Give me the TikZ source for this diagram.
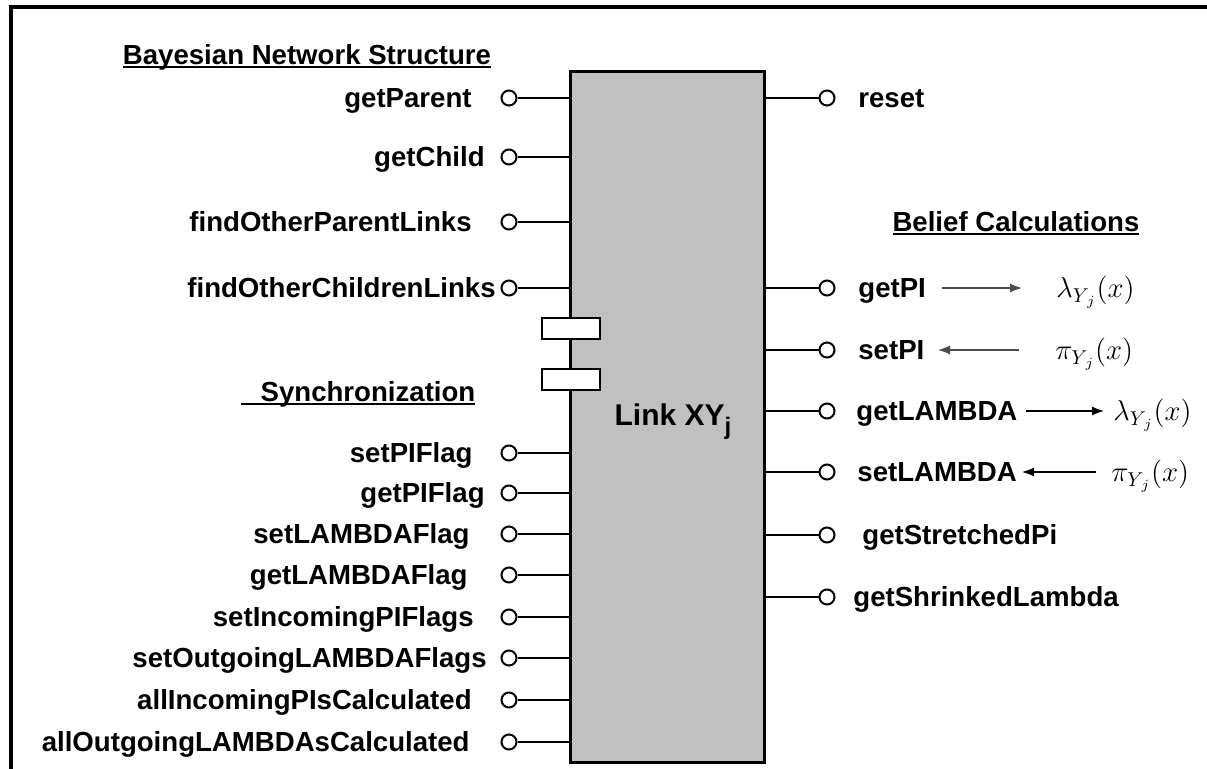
\documentclass[tikz,border=0pt]{standalone}
\usepackage{amsmath,amsfonts,amssymb}
\usepackage{fontspec}
\setmainfont{Liberation Sans}
\usepackage{tikz}
\usetikzlibrary{arrows.meta}
\definecolor{boxgray}{RGB}{192,192,192}
\newcommand{\ulhead}[1]{\setbox0\hbox{#1}\rlap{\rule[-1.6pt]{\wd0}{1pt}}\box0}

\begin{document}
\begin{tikzpicture}[x=0.5pt,y=-0.5pt,
        lbl/.style={font=\fontsize{13.8}{16}\selectfont\bfseries,inner sep=0pt,text height=10pt,text depth=0pt},
        mth/.style={font=\fontsize{14.5}{16}\selectfont,inner sep=0pt,text height=10pt,text depth=0pt},
        port/.style={draw,circle,line width=1pt,fill=white,inner sep=0pt,minimum size=7.5pt},
        wire/.style={line width=1pt},
        lock/.style={draw,fill=white,line width=1pt,inner sep=0pt,minimum width=29pt,minimum height=10.5pt},
        flow/.style={-{Latex[length=6pt,width=4.5pt]},line width=0.6pt}]
        \useasboundingbox (0,0) rectangle (1207,769);
        \draw[line width=2.2pt] (11,769) -- (11,7) -- (1207,7);

        % the link object
        \node (link) at (667.5,417.5) [draw,fill=boxgray,line width=1.5pt,minimum width=97pt,minimum height=345.5pt] {};
        \node (Tlink) at (673,416) [lbl,font=\fontsize{15}{16}\selectfont\bfseries] {Link XY\raisebox{-4.5pt}{\fontsize{12}{12}\selectfont j}};
        \node (Lock1) at (570.5,328.5) [lock] {};
        \node (Lock2) at (570.5,380)   [lock] {};

        % headings
        \node (Hbayes) at (307,55)  [lbl] {\ulhead{Bayesian Network Structure}};
        \node (Hsync)  at (358,392) [lbl] {\ulhead{\hspace*{10pt}Synchronization}};
        \node (Hbelief) at (1016,222) [lbl] {\ulhead{Belief Calculations}};

        % structure ports
        \node (Lparent) at (472,98)  [lbl,anchor=east] {getParent};
        \node (Lchild)  at (485,157) [lbl,anchor=east] {getChild};
        \node (Lopl)    at (472,222) [lbl,anchor=east] {findOtherParentLinks};
        \node (Locl)    at (496,288) [lbl,anchor=east] {findOtherChildrenLinks};
        \node (Pparent) at (509,98)  [port] {};
        \node (Pchild)  at (509,157) [port] {};
        \node (Popl)    at (509,222) [port] {};
        \node (Pocl)    at (509,288) [port] {};

        % synchronization ports
        \node (Lsetpif) at (473,453) [lbl,anchor=east] {setPIFlag};
        \node (Lgetpif) at (485,493) [lbl,anchor=east] {getPIFlag};
        \node (Lsetlf)  at (470,534) [lbl,anchor=east] {setLAMBDAFlag};
        \node (Lgetlf)  at (468,575) [lbl,anchor=east] {getLAMBDAFlag};
        \node (Lincpi)  at (474,617) [lbl,anchor=east] {setIncomingPIFlags};
        \node (Loutl)   at (487,658) [lbl,anchor=east] {setOutgoingLAMBDAFlags};
        \node (Lallpi)  at (472,700) [lbl,anchor=east] {allIncomingPIsCalculated};
        \node (Lalll)   at (470,742) [lbl,anchor=east] {allOutgoingLAMBDAsCalculated};
        \node (Psetpif) at (509,453) [port] {};
        \node (Pgetpif) at (509,493) [port] {};
        \node (Psetlf)  at (509,534) [port] {};
        \node (Pgetlf)  at (509,575) [port] {};
        \node (Pincpi)  at (509,617) [port] {};
        \node (Poutl)   at (509,658) [port] {};
        \node (Pallpi)  at (509,700) [port] {};
        \node (Palll)   at (509,742) [port] {};

        \draw[wire] (Pparent) -- (Pparent -| link.west);
        \draw[wire] (Pchild) -- (Pchild -| link.west);
        \draw[wire] (Popl) -- (Popl -| link.west);
        \draw[wire] (Pocl) -- (Pocl -| link.west);
        \draw[wire] (Psetpif) -- (Psetpif -| link.west);
        \draw[wire] (Pgetpif) -- (Pgetpif -| link.west);
        \draw[wire] (Psetlf) -- (Psetlf -| link.west);
        \draw[wire] (Pgetlf) -- (Pgetlf -| link.west);
        \draw[wire] (Pincpi) -- (Pincpi -| link.west);
        \draw[wire] (Poutl) -- (Poutl -| link.west);
        \draw[wire] (Pallpi) -- (Pallpi -| link.west);
        \draw[wire] (Palll) -- (Palll -| link.west);

        % belief ports
        \node (Rreset)   at (858,98)  [lbl,anchor=west] {reset};
        \node (RgetPI)   at (858,288) [lbl,anchor=west] {getPI};
        \node (RsetPI)   at (858,350) [lbl,anchor=west] {setPI};
        \node (RgetL)    at (856,411) [lbl,anchor=west] {getLAMBDA};
        \node (RsetL)    at (857,472) [lbl,anchor=west] {setLAMBDA};
        \node (Rstretch) at (862,535) [lbl,anchor=west] {getStretchedPi};
        \node (Rshrink)  at (853,597) [lbl,anchor=west] {getShrinkedLambda};
        \node (Qreset)   at (827,98)  [port] {};
        \node (QgetPI)   at (827,288) [port] {};
        \node (QsetPI)   at (827,350) [port] {};
        \node (QgetL)    at (827,411) [port] {};
        \node (QsetL)    at (827,472) [port] {};
        \node (Qstretch) at (827,535) [port] {};
        \node (Qshrink)  at (827,597) [port] {};

        \draw[wire] (Qreset -| link.east) -- (Qreset);
        \draw[wire] (QgetPI -| link.east) -- (QgetPI);
        \draw[wire] (QsetPI -| link.east) -- (QsetPI);
        \draw[wire] (QgetL -| link.east) -- (QgetL);
        \draw[wire] (QsetL -| link.east) -- (QsetL);
        \draw[wire] (Qstretch -| link.east) -- (Qstretch);
        \draw[wire] (Qshrink -| link.east) -- (Qshrink);

        % messages
        \node (Mlam1) at (1056,288) [mth,anchor=west] {$\lambda_{Y_{\,j}}(x)$};
        \node (Mpi1)  at (1055,350) [mth,anchor=west] {$\pi_{Y_{\,j}}(x)$};
        \node (Mlam2) at (1113,411) [mth,anchor=west] {$\lambda_{Y_{\,j}}(x)$};
        \node (Mpi2)  at (1111,472) [mth,anchor=west] {$\pi_{Y_{\,j}}(x)$};
        \coordinate (A1s) at (942,288);  \coordinate (A1e) at (1022,288);
        \coordinate (A2s) at (1019,350); \coordinate (A2e) at (938,350);
        \coordinate (A3s) at (1026,411); \coordinate (A3e) at (1104,411);
        \coordinate (A4s) at (1096,472); \coordinate (A4e) at (1022,472);
        \draw[flow,black!70] (A1s) -- (A1e);
        \draw[flow,black!70] (A2s) -- (A2e);
        \draw[flow] (A3s) -- (A3e);
        \draw[flow] (A4s) -- (A4e);
\end{tikzpicture}
\end{document}
